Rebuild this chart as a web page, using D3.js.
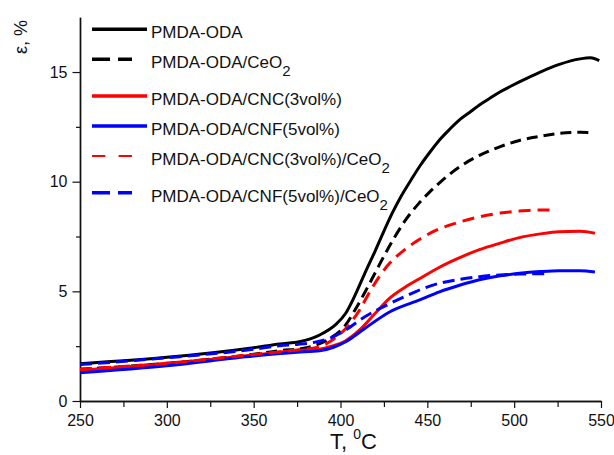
<!DOCTYPE html>
<html>
<head>
<meta charset="utf-8">
<script src="https://cdn.jsdelivr.net/npm/d3@7"></script>
<style>
  body { margin: 0; background: #fff; }
  svg { font-family: "Liberation Sans", Arial, sans-serif; }
</style>
</head>
<body>
<div id="chart"></div>
<script>
// temperature (°C), strain ε (%)
const pmdaOda = [[250, 1.70], [300, 1.99], [350, 2.43], [365, 2.60], [377, 2.71], [388, 3.01], [397, 3.47],
  [403, 4.00], [408, 4.76], [414, 5.82], [420, 6.85], [425, 7.75], [430, 8.60], [435, 9.35], [440, 10.00],
  [446, 10.75], [452, 11.40], [457, 11.90], [463, 12.40], [469, 12.85], [475, 13.20], [480, 13.50],
  [486, 13.80], [492, 14.10], [498, 14.35], [503, 14.55], [515, 15.00], [526, 15.35], [538, 15.60],
  [544, 15.65], [549, 15.52]]
const pmdaOdaCeo2 = [[250, 1.45], [300, 1.72], [350, 2.13], [365, 2.30], [378, 2.40], [386, 2.55], [394, 2.86],
  [403, 3.47], [408, 4.10], [414, 4.95], [420, 5.85], [426, 6.75], [431, 7.45], [437, 8.20], [445, 9.00],
  [451, 9.50], [457, 9.95], [469, 10.70], [480, 11.20], [492, 11.60], [503, 11.88], [515, 12.07],
  [526, 12.20], [538, 12.25], [545.5, 12.23]]
const pmdaOdaCnc = [[250, 1.41], [300, 1.70], [350, 2.10], [375, 2.30], [388, 2.36], [395, 2.50], [403, 2.75],
  [411, 3.24], [420, 4.00], [428.5, 4.70], [437, 5.18], [446, 5.60], [457, 6.10], [469, 6.55], [480, 6.90],
  [492, 7.20], [503, 7.45], [515, 7.62], [526, 7.72], [538, 7.74], [546.5, 7.65]]
const pmdaOdaCnf = [[250, 1.29], [300, 1.61], [350, 2.05], [375, 2.22], [388, 2.29], [396, 2.45], [403, 2.70],
  [414, 3.31], [428.5, 4.07], [446, 4.62], [457, 4.98], [469, 5.29], [480, 5.53], [492, 5.71], [503, 5.82],
  [515, 5.90], [526, 5.94], [538, 5.94], [546.5, 5.88]]
const pmdaOdaCncCeo2 = [[250, 1.45], [300, 1.72], [350, 2.12], [375, 2.33], [387, 2.45], [394, 2.71], [403, 3.31],
  [411, 4.15], [417, 5.00], [423, 5.75], [428.5, 6.30], [437, 6.90], [446, 7.40], [457, 7.85], [469, 8.17],
  [480, 8.40], [492, 8.57], [503, 8.66], [515, 8.71], [523.5, 8.70]]
const pmdaOdaCnfCeo2 = [[250, 1.66], [300, 1.97], [350, 2.36], [365, 2.52], [375, 2.58], [384, 2.66], [395, 2.90],
  [403, 3.24], [414, 3.84], [423, 4.23], [437, 4.76], [446, 5.08], [457, 5.37], [469, 5.55], [480, 5.67],
  [492, 5.75], [503, 5.79], [518, 5.80]]

const xTicks = [250, 300, 350, 400, 450, 500, 550]
const xMinorTicks = [275, 325, 375, 425, 475, 525]
const yTicks = [0, 5, 10, 15]
const yMinorTicks = [2.5, 7.5, 12.5]

const series = [
  { name: 'PMDA-ODA', sub: null, data: pmdaOda, color: '#000', dash: null },
  { name: 'PMDA-ODA/CeO', sub: '2', data: pmdaOdaCeo2, color: '#000', dash: '11,6' },
  { name: 'PMDA-ODA/CNC(3vol%)', sub: null, data: pmdaOdaCnc, color: '#f00', dash: null },
  { name: 'PMDA-ODA/CNF(5vol%)', sub: null, data: pmdaOdaCnf, color: '#00f', dash: null },
  { name: 'PMDA-ODA/CNC(3vol%)/CeO', sub: '2', data: pmdaOdaCncCeo2, color: '#f00', dash: '12,7' },
  { name: 'PMDA-ODA/CNF(5vol%)/CeO', sub: '2', data: pmdaOdaCnfCeo2, color: '#00f', dash: '12,6' }
]

const WIDTH = 614
const HEIGHT = 455

const svg = d3.select('#chart').append('svg')
                               .attr('width', WIDTH)
                               .attr('height', HEIGHT)

const x = d3.scaleLinear().domain([250, 550]).range([80, 601])
const y = d3.scaleLinear().domain([0, 17.5]).range([401, 17.2])

const styleAxis = g => {
  g.select('.domain').attr('stroke', '#111').attr('stroke-width', 1.4)
  g.selectAll('.tick line').attr('stroke', '#111').attr('stroke-width', 1.2)
  g.selectAll('.tick text').attr('font-size', 16).attr('fill', '#111')
     .attr('font-family', '"Liberation Sans", Arial, sans-serif')
}

// minor ticks first, main axes on top
svg.append('g')
     .attr('transform', 'translate(0,401)')
     .call(d3.axisBottom(x).tickValues(xMinorTicks).tickSize(6).tickSizeOuter(0).tickFormat(''))
     .call(styleAxis)
svg.append('g')
     .attr('transform', 'translate(80,0)')
     .call(d3.axisLeft(y).tickValues(yMinorTicks).tickSize(4).tickSizeOuter(0).tickFormat(''))
     .call(styleAxis)

svg.append('g')
     .attr('transform', 'translate(0,401)')
     .call(d3.axisBottom(x).tickValues(xTicks).tickSize(7).tickPadding(7).tickSizeOuter(0))
     .call(styleAxis)
svg.append('g')
     .attr('transform', 'translate(80,0)')
     .call(d3.axisLeft(y).tickValues(yTicks).tickSize(7.5).tickPadding(5).tickSizeOuter(0))
     .call(styleAxis)

const line = d3.line()
               .x(d => x(d[0]))
               .y(d => y(d[1]))
               .curve(d3.curveMonotoneX)

svg.append('g')
   .selectAll('path')
   .data(series)
   .enter()
     .append('path')
     .attr('d', d => line(d.data))
     .attr('fill', 'none')
     .attr('stroke', d => d.color)
     .attr('stroke-width', 3)
     .attr('stroke-dasharray', d => d.dash)

// legend
const legend = svg.append('g').attr('class', 'legend')
let baseline = 38.3
series.forEach(s => {
  const row = legend.append('g')
  const isDashed = s.dash !== null
  row.append('line')
       .attr('x1', 92)
       .attr('x2', isDashed ? 132 : 147)
       .attr('y1', baseline - 9)
       .attr('y2', baseline - 9)
       .attr('stroke', s.color)
       .attr('stroke-width', s.color === '#f00' && isDashed ? 2.2 : 3.4)
       .attr('stroke-dasharray', !isDashed ? null : (s.color === '#f00' ? '13.3,13.3' : '18,8'))
  const t = row.append('text')
                 .attr('x', 151)
                 .attr('y', baseline)
                 .attr('font-size', 17)
                 .attr('fill', '#111')
                 .text(s.name)
  if (s.sub) {
    t.append('tspan')
       .attr('dy', 8)
       .attr('font-size', 15)
       .text(s.sub)
  }
  baseline += s.sub ? 36.7 : 30
})

// axis titles
svg.append('text')
     .attr('transform', 'translate(27,37) rotate(-90)')
     .attr('text-anchor', 'middle')
     .attr('font-size', 18)
     .attr('fill', '#111')
     .text('ε, %')

const xTitle = svg.append('text')
                    .attr('x', 330)
                    .attr('y', 449)
                    .attr('font-size', 22)
                    .attr('fill', '#111')
xTitle.append('tspan').text('T, ')
xTitle.append('tspan').attr('dy', -10).attr('font-size', 14).text('0')
xTitle.append('tspan').attr('dy', 10).text('C')
</script>
</body>
</html>
